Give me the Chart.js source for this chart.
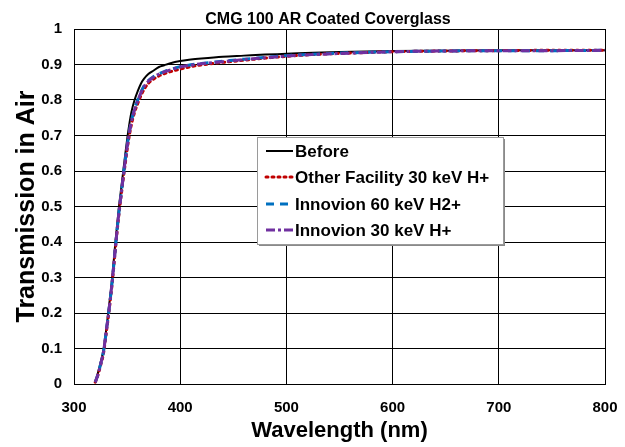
<!DOCTYPE html>
<html><head><meta charset="utf-8">
<script src="https://cdn.jsdelivr.net/npm/chart.js@4.4.1/dist/chart.umd.min.js"></script>
<style>html,body{margin:0;padding:0;background:#fff}#wrap{width:625px;height:447px}</style>
</head><body><div id="wrap"><canvas id="c" width="625" height="447"></canvas></div>
<script>
const chartTitle = 'CMG 100 AR Coated Coverglass';
const xAxisTitle = 'Wavelength (nm)';
const yAxisTitle = 'Transmission in Air';
const seriesNames = ['Before', 'Other Facility 30 keV H+', 'Innovion 60 keV H2+', 'Innovion 30 keV H+'];
const xTicks = [300, 400, 500, 600, 700, 800];
const yTicks = ['0', '0.1', '0.2', '0.3', '0.4', '0.5', '0.6', '0.7', '0.8', '0.9', '1'];

const wavelengths = [320, 322, 325, 328, 330, 333, 336, 339, 342, 345, 348, 351, 354, 357, 360, 363, 366, 370, 375, 380, 385, 390, 400, 410, 420, 440, 460, 480, 500, 525, 550, 600, 650, 700, 750, 800];
const before = [0.005, 0.025, 0.06, 0.10, 0.145, 0.22, 0.30, 0.40, 0.49, 0.565, 0.64, 0.71, 0.765, 0.80, 0.825, 0.846, 0.860, 0.873, 0.883, 0.893, 0.898, 0.903, 0.910, 0.914, 0.917, 0.922, 0.925, 0.928, 0.930, 0.933, 0.935, 0.938, 0.939, 0.940, 0.940, 0.940];
const otherFacility30 = [0.005, 0.02, 0.052, 0.09, 0.135, 0.205, 0.285, 0.38, 0.47, 0.545, 0.615, 0.68, 0.73, 0.765, 0.79, 0.812, 0.83, 0.847, 0.859, 0.868, 0.874, 0.879, 0.887, 0.894, 0.899, 0.906, 0.912, 0.918, 0.923, 0.928, 0.931, 0.936, 0.938, 0.939, 0.940, 0.940];
const innovion60 = [0.005, 0.022, 0.055, 0.095, 0.14, 0.21, 0.29, 0.385, 0.475, 0.55, 0.625, 0.69, 0.74, 0.775, 0.80, 0.822, 0.840, 0.855, 0.866, 0.874, 0.880, 0.885, 0.894, 0.899, 0.903, 0.909, 0.915, 0.920, 0.925, 0.929, 0.932, 0.936, 0.938, 0.939, 0.939, 0.940];
const innovion30 = [0.005, 0.022, 0.055, 0.095, 0.14, 0.21, 0.29, 0.385, 0.475, 0.55, 0.623, 0.688, 0.738, 0.772, 0.798, 0.820, 0.838, 0.853, 0.865, 0.873, 0.879, 0.884, 0.893, 0.898, 0.902, 0.908, 0.914, 0.919, 0.924, 0.928, 0.931, 0.936, 0.938, 0.939, 0.939, 0.940];

const FONT = '"Liberation Sans", Arial, sans-serif';
const toPts = arr => arr.map((v, i) => ({x: wavelengths[i], y: v}));

const styles = [
  {color: '#000000', width: 2, dash: [], order: 4},
  {color: '#C00000', width: 3, dash: [2, 4], order: 3},
  {color: '#0070C0', width: 3, dash: [8, 6], order: 2},
  {color: '#7030A0', width: 3, dash: [9, 3, 3, 3], order: 1}
];
const seriesData = [before, otherFacility30, innovion60, innovion30];

const datasets = seriesData.map((d, i) => ({
  label: seriesNames[i],
  data: toPts(d),
  borderColor: styles[i].color,
  backgroundColor: styles[i].color,
  borderWidth: styles[i].width,
  borderDash: styles[i].dash,
  borderCapStyle: i === 1 ? 'round' : 'butt',
  pointRadius: 0,
  fill: false,
  cubicInterpolationMode: 'monotone',
  order: styles[i].order
}));

const titlePlugin = {
  id: 'plotTitle',
  afterDraw(chart) {
    const ctx = chart.ctx;
    ctx.save();
    ctx.font = 'bold 16px ' + FONT;
    ctx.fillStyle = '#000';
    ctx.textAlign = 'center';
    ctx.textBaseline = 'alphabetic';
    ctx.fillText(chartTitle, 328, 24);
    ctx.restore();
  }
};

const legendPlugin = {
  id: 'boxLegend',
  afterDatasetsDraw(chart) {
    const ctx = chart.ctx;
    const x0 = 257, y0 = 137, w = 246, h = 107;
    ctx.save();
    ctx.fillStyle = '#8a8a8a';
    ctx.fillRect(x0 + 2, y0 + 2, w, h);
    ctx.fillStyle = '#fff';
    ctx.fillRect(x0, y0, w, h);
    ctx.strokeStyle = '#9a9a9a';
    ctx.lineWidth = 1;
    ctx.strokeRect(x0 + 0.5, y0 + 0.5, w, h);
    const rows = [151, 177, 204, 230];
    chart.data.datasets.forEach((ds, i) => {
      const y = rows[i];
      ctx.beginPath();
      ctx.strokeStyle = ds.borderColor;
      ctx.lineWidth = ds.borderWidth;
      ctx.setLineDash(ds.borderDash);
      ctx.lineCap = ds.borderCapStyle;
      ctx.moveTo(266, y);
      ctx.lineTo(293, y);
      ctx.stroke();
      ctx.setLineDash([]);
      ctx.fillStyle = '#000';
      ctx.font = 'bold 17px ' + FONT;
      ctx.textBaseline = 'middle';
      ctx.textAlign = 'left';
      ctx.fillText(ds.label, 295, y + 1);
    });
    ctx.restore();
  }
};

new Chart(document.getElementById('c'), {
  type: 'line',
  data: {datasets},
  plugins: [titlePlugin, legendPlugin],
  options: {
    responsive: false,
    animation: false,
    devicePixelRatio: 1,
    layout: {padding: {top: 29, right: 20, left: 0, bottom: 0}},
    plugins: {legend: {display: false}, tooltip: {enabled: false}, title: {display: false}},
    scales: {
      x: {
        type: 'linear', min: 300, max: 800,
        afterFit: s => { s.height = 63; s.paddingRight = 0; s.paddingLeft = 0; },
        afterBuildTicks: s => { s.ticks = xTicks.map(v => ({value: v})); },
        ticks: {color: '#000', font: {family: FONT, size: 15, weight: 'bold'}, padding: 15, maxRotation: 0, callback: v => String(v)},
        grid: {color: '#000', lineWidth: 1, drawTicks: false},
        border: {display: true, color: '#000', width: 1},
        title: {display: true, text: xAxisTitle, color: '#000', font: {family: FONT, size: 22, weight: 'bold'}, padding: {top: 0, bottom: 3}}
      },
      y: {
        type: 'linear', min: 0, max: 1,
        afterFit: s => { s.width = 74; s.paddingTop = 0; s.paddingBottom = 0; },
        afterBuildTicks: s => { s.ticks = yTicks.map(t => ({value: parseFloat(t)})); },
        ticks: {color: '#000', font: {family: FONT, size: 15, weight: 'bold'}, padding: 12, callback: (v, i) => yTicks[i]},
        grid: {color: '#000', lineWidth: 1, drawTicks: false},
        border: {display: true, color: '#000', width: 1},
        title: {display: true, text: yAxisTitle, color: '#000', font: {family: FONT, size: 25, weight: 'bold'}, padding: {top: 12, bottom: 0}}
      }
    }
  }
});
</script>
</body></html>
